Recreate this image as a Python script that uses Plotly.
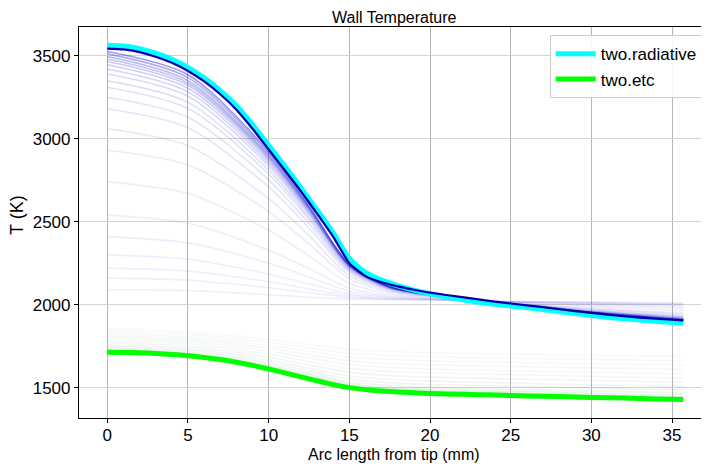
import plotly.graph_objects as go

# ---------------- data ----------------
# fine grid for the three main curves (mm)
x_fine = [0, 1, 2, 3, 4, 5, 6, 7, 8, 9, 10, 11, 12, 13, 14, 15, 16, 17, 18, 19,
          20, 22, 24, 26, 28, 30, 32, 34, 35.7]
two_radiative = [3563, 3558, 3542, 3515, 3478, 3430, 3367, 3290, 3200, 3085,
                 2960, 2835, 2705, 2570, 2432, 2278, 2195, 2148, 2115, 2088,
                 2066, 2030, 2002, 1982, 1958, 1935, 1915, 1900, 1888]
final_iter = [3543, 3538, 3522, 3494, 3457, 3408, 3345, 3268, 3175, 3060,
              2935, 2810, 2683, 2548, 2408, 2250, 2172, 2135, 2110, 2090,
              2072, 2045, 2018, 1996, 1973, 1950, 1930, 1915, 1905]
two_etc = [1713, 1712, 1710, 1706, 1700, 1692, 1682, 1669, 1653, 1634,
           1612, 1589, 1565, 1541, 1518, 1500, 1488, 1480, 1474, 1469,
           1465, 1460, 1455, 1450, 1446, 1441, 1437, 1432, 1428]

# coarse grid for the faint iteration histories (mm)
x_hist = [0, 5, 10, 12.5, 15, 17.5, 20, 25, 30, 35.7]
blue_history = [
    [2090, 2085, 2060, 2045, 2035, 2030, 2028, 2020, 2015, 2010],
    [2160, 2148, 2102, 2072, 2045, 2034, 2030, 2019, 2012, 2005],
    [2220, 2202, 2138, 2095, 2054, 2037, 2031, 2018, 2009, 2001],
    [2300, 2274, 2185, 2125, 2065, 2042, 2033, 2017, 2006, 1995],
    [2410, 2372, 2250, 2167, 2081, 2048, 2035, 2016, 2001, 1987],
    [2540, 2490, 2328, 2217, 2100, 2055, 2039, 2014, 1995, 1977],
    [2740, 2670, 2448, 2294, 2129, 2066, 2043, 2011, 1986, 1963],
    [2930, 2841, 2561, 2366, 2157, 2076, 2048, 2008, 1977, 1949],
    [3060, 2958, 2639, 2416, 2175, 2084, 2051, 2007, 1972, 1940],
    [3180, 3066, 2710, 2462, 2193, 2090, 2054, 2005, 1966, 1931],
    [3250, 3129, 2752, 2489, 2203, 2094, 2055, 2004, 1963, 1926],
    [3310, 3182, 2787, 2512, 2212, 2097, 2057, 2003, 1960, 1922],
    [3350, 3219, 2812, 2527, 2217, 2100, 2058, 2003, 1959, 1919],
    [3390, 3256, 2836, 2543, 2223, 2102, 2058, 2002, 1957, 1916],
    [3420, 3282, 2853, 2554, 2228, 2103, 2059, 2002, 1955, 1914],
    [3445, 3304, 2868, 2563, 2231, 2105, 2060, 2001, 1954, 1912],
    [3465, 3322, 2880, 2571, 2234, 2106, 2060, 2001, 1953, 1910],
    [3480, 3336, 2890, 2577, 2236, 2107, 2061, 2001, 1953, 1909],
    [3495, 3350, 2898, 2583, 2238, 2108, 2061, 2001, 1952, 1908],
    [3511, 3368, 2910, 2590, 2241, 2108, 2062, 2001, 1951, 1907],
    [3525, 3385, 2922, 2596, 2244, 2109, 2063, 2000, 1951, 1906],
]
green_history = [
    [1855, 1835, 1790, 1760, 1730, 1718, 1710, 1702, 1695, 1688],
    [1841, 1821, 1772, 1739, 1707, 1694, 1686, 1677, 1670, 1662],
    [1827, 1806, 1754, 1719, 1684, 1670, 1661, 1652, 1644, 1636],
    [1812, 1792, 1737, 1698, 1661, 1646, 1637, 1627, 1619, 1610],
    [1798, 1778, 1719, 1678, 1638, 1622, 1612, 1602, 1593, 1584],
    [1784, 1764, 1701, 1657, 1615, 1598, 1588, 1578, 1568, 1558],
    [1770, 1749, 1683, 1636, 1592, 1573, 1563, 1553, 1543, 1532],
    [1756, 1735, 1665, 1616, 1569, 1549, 1539, 1528, 1517, 1506],
    [1744, 1723, 1651, 1599, 1551, 1530, 1519, 1508, 1497, 1485],
    [1734, 1713, 1639, 1585, 1535, 1513, 1502, 1490, 1479, 1467],
    [1727, 1706, 1630, 1575, 1523, 1501, 1490, 1478, 1466, 1454],
    [1722, 1701, 1623, 1566, 1514, 1491, 1480, 1468, 1456, 1443],
    [1717, 1696, 1617, 1560, 1507, 1484, 1472, 1460, 1449, 1436],
    [1714, 1693, 1614, 1556, 1502, 1479, 1467, 1455, 1444, 1431],
]
blue_alpha = [0.07, 0.07, 0.07, 0.07, 0.08, 0.08, 0.08, 0.09, 0.10, 0.11,
              0.12, 0.13, 0.14, 0.16, 0.18, 0.20, 0.23, 0.26, 0.30, 0.35, 0.42]
green_alpha = [0.04, 0.04, 0.04, 0.05, 0.05, 0.05, 0.06, 0.06, 0.07, 0.08,
               0.10, 0.12, 0.15, 0.2]

x_ticks = [0, 5, 10, 15, 20, 25, 30, 35]
y_ticks = [1500, 2000, 2500, 3000, 3500]

FONT = "Liberation Sans"
OFF = 8                      # page body margin offset
W, H = 709 - OFF, 464 - OFF
L, R, T = 79 - OFF, 0, 27 - OFF
BOTTOM = 418 - OFF           # plot-area bottom in figure pixels
B = H - BOTTOM
PW, PH = W - L - R, H - T - B


def px_x(page_x):
    return (page_x - OFF - L) / PW


def px_y(page_y):
    return (BOTTOM - (page_y - OFF)) / PH


fig = go.Figure()

for ys, a in zip(blue_history, blue_alpha):
    fig.add_trace(go.Scatter(x=x_hist, y=ys, mode="lines", showlegend=False,
                             hoverinfo="skip",
                             line=dict(color=f"rgba(20,20,210,{a})", width=1.6,
                                       shape="spline", smoothing=0.8)))
for ys, a in zip(green_history, green_alpha):
    fig.add_trace(go.Scatter(x=x_hist, y=ys, mode="lines", showlegend=False,
                             hoverinfo="skip",
                             line=dict(color=f"rgba(40,110,40,{a})", width=1.6,
                                       shape="spline", smoothing=0.8)))

fig.add_trace(go.Scatter(x=x_fine, y=two_radiative, mode="lines",
                         name="two.radiative",
                         line=dict(color="#00ffff", width=5,
                                   shape="spline", smoothing=0.6)))
fig.add_trace(go.Scatter(x=x_fine, y=two_etc, mode="lines", name="two.etc",
                         line=dict(color="#00ff00", width=5,
                                   shape="spline", smoothing=0.6)))
fig.add_trace(go.Scatter(x=x_fine, y=final_iter, mode="lines", showlegend=False,
                         line=dict(color="#0000b0", width=2.2,
                                   shape="spline", smoothing=0.5)))

fig.update_layout(
    width=W, height=H,
    margin=dict(l=L, r=R, t=T, b=B, autoexpand=False),
    paper_bgcolor="white", plot_bgcolor="white",
    font=dict(family=FONT, size=16, color="black"),
    showlegend=True,
    legend=dict(x=px_x(702.7), xanchor="right", y=px_y(35.3), yanchor="top",
                bgcolor="rgba(255,255,255,0.9)", bordercolor="#cccccc",
                borderwidth=1, font=dict(family=FONT, size=17),
                tracegroupgap=0, itemwidth=40),
    annotations=[
        dict(text="Wall Temperature", xref="paper", yref="paper",
             x=px_x(394), y=px_y(17), xanchor="center", yanchor="middle",
             showarrow=False, font=dict(family=FONT, size=16, color="black")),
        dict(text="Arc length from tip (mm)", xref="paper", yref="paper",
             x=px_x(394), y=px_y(454), xanchor="center", yanchor="middle",
             showarrow=False, font=dict(family=FONT, size=16, color="black")),
        dict(text="T (K)", xref="paper", yref="paper",
             x=px_x(17), y=px_y(215), xanchor="center", yanchor="middle",
             showarrow=False, textangle=-90,
             font=dict(family=FONT, size=18, color="black")),
    ],
)
fig.update_xaxes(
    range=[-1.754, 37.29], tickvals=x_ticks, ticktext=[str(v) for v in x_ticks],
    automargin=False,
    showgrid=True, gridcolor="#b5b5b5", gridwidth=1, zeroline=False,
    showline=True, linecolor="black", linewidth=1.2, mirror=True,
    ticks="outside", ticklen=4, tickcolor="black", tickfont=dict(size=17),
    ticklabelstandoff=-3,
)
fig.update_yaxes(
    range=[1317, 3673], tickvals=y_ticks, ticktext=[str(v) for v in y_ticks],
    automargin=False,
    showgrid=True, gridcolor="#d3d3d3", gridwidth=1.2, zeroline=False,
    showline=True, linecolor="black", linewidth=1.2,
    ticks="outside", ticklen=4, tickcolor="black", tickfont=dict(size=17),
)

fig.write_html("out.html")
